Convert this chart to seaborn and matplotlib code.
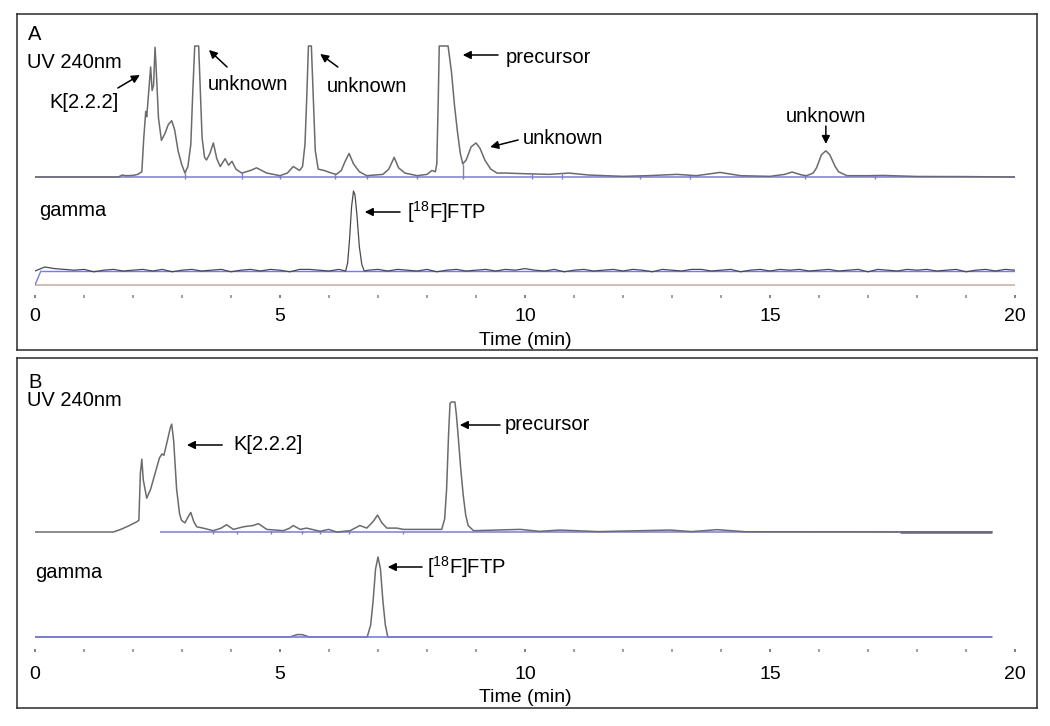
import numpy as np
import matplotlib
matplotlib.use('Agg')
import matplotlib.pyplot as plt
import seaborn as sns
from matplotlib.ticker import MultipleLocator

# ==================== data ====================
# panel A, UV 240 nm trace: time (min) / signal (1 = detector clip)
uv_a_time = [0.00, 1.70, 1.78, 1.85, 2.00, 2.10, 2.18, 2.22, 2.26, 2.28, 2.31, 2.36, 2.39, 2.42,
             2.45, 2.47, 2.52, 2.58, 2.65, 2.72, 2.79, 2.85, 2.92, 2.99, 3.06, 3.12, 3.18, 3.22,
             3.26, 3.34, 3.37, 3.41, 3.46, 3.50, 3.57, 3.64, 3.71, 3.78, 3.88, 3.95, 4.02, 4.10,
             4.22, 4.40, 4.52, 4.73, 5.00, 5.15, 5.27, 5.40, 5.46, 5.51, 5.55, 5.58, 5.64, 5.68,
             5.72, 5.78, 5.90, 6.05, 6.15, 6.25, 6.33, 6.41, 6.50, 6.62, 6.77, 7.10, 7.22, 7.33,
             7.42, 7.55, 7.80, 8.00, 8.10, 8.17, 8.20, 8.23, 8.25, 8.43, 8.50, 8.56, 8.62, 8.68,
             8.73, 8.80, 8.90, 9.00, 9.08, 9.18, 9.30, 9.43, 9.60, 10.00, 10.50, 10.90, 11.30,
             12.00, 12.50, 13.10, 13.50, 13.98, 14.40, 15.00, 15.30, 15.45, 15.65, 15.75, 15.88,
             15.95, 16.05, 16.14, 16.22, 16.33, 16.40, 16.57, 17.00, 17.30, 18.00, 19.00, 20.00]
uv_a_level = [0.000, 0.000, 0.015, 0.010, 0.012, 0.020, 0.040, 0.300, 0.500, 0.460, 0.600, 0.840,
              0.660, 0.700, 0.990, 0.850, 0.450, 0.280, 0.330, 0.400, 0.430, 0.360, 0.200, 0.100,
              0.030, 0.080, 0.250, 0.650, 1.000, 1.000, 0.700, 0.300, 0.150, 0.130, 0.180, 0.260,
              0.140, 0.080, 0.140, 0.090, 0.120, 0.060, 0.030, 0.050, 0.070, 0.030, 0.010, 0.030,
              0.080, 0.050, 0.080, 0.250, 0.650, 1.000, 1.000, 0.600, 0.200, 0.060, 0.050, 0.030,
              0.020, 0.050, 0.120, 0.180, 0.100, 0.040, 0.010, 0.020, 0.060, 0.150, 0.070, 0.030,
              0.010, 0.020, 0.050, 0.040, 0.100, 0.600, 1.000, 1.000, 0.800, 0.550, 0.350, 0.180,
              0.100, 0.130, 0.230, 0.260, 0.220, 0.130, 0.060, 0.030, 0.030, 0.025, 0.020, 0.030,
              0.015, 0.005, 0.010, 0.020, 0.010, 0.035, 0.010, 0.005, 0.020, 0.038, 0.015, 0.010,
              0.030, 0.070, 0.170, 0.200, 0.170, 0.080, 0.040, 0.010, 0.010, 0.012, 0.004, 0.003,
              0.000]
uv_a_drops = [3.06, 4.22, 5.00, 6.12, 6.77, 7.80, 8.73, 10.14, 10.76, 12.35, 13.37, 15.71, 17.14]

# panel A, gamma trace: noisy baseline every 0.2 min plus the [18F]FTP peak
gamma_a_noise = [0.00, 0.05, 0.03, 0.02, 0.01, 0.02, -0.01, 0.01, 0.02, 0.00,
                 0.01, 0.02, 0.00, 0.02, -0.01, 0.01, 0.02, 0.00, 0.01, 0.02,
                 -0.01, 0.01, 0.02, 0.00, 0.02, 0.01, -0.01, 0.02, 0.02, 0.01,
                 0.00, 0.02, 0.01, -0.01, 0.01, 0.02, 0.00, 0.02, 0.01, 0.00,
                 0.02, -0.01, 0.01, 0.02, 0.00, 0.01, 0.02, 0.00, 0.02, 0.01,
                 0.03, 0.01, 0.00, 0.02, -0.01, 0.01, 0.02, 0.00, 0.01, 0.02,
                 0.00, 0.02, 0.01, -0.01, 0.02, 0.01, 0.00, 0.02, 0.02, 0.00,
                 0.01, 0.02, -0.01, 0.01, 0.02, 0.00, 0.02, 0.01, 0.02, 0.00,
                 0.01, 0.02, 0.00, 0.01, 0.02, -0.01, 0.02, 0.01, 0.00, 0.02,
                 0.01, 0.02, 0.00, 0.01, 0.02, -0.01, 0.01, 0.02, 0.00, 0.02, 0.01]
gamma_a_peak_time = [6.34, 6.38, 6.42, 6.46, 6.50, 6.53, 6.57, 6.62, 6.67, 6.72]
gamma_a_peak_level = [0.00, 0.10, 0.40, 0.80, 1.00, 0.95, 0.70, 0.30, 0.08, 0.00]

# panel B, UV 240 nm trace
uv_b_time = [0.00, 1.60, 1.75, 1.90, 2.07, 2.12, 2.15, 2.18, 2.21, 2.28, 2.36, 2.45, 2.54, 2.59,
             2.63, 2.70, 2.76, 2.79, 2.83, 2.89, 2.95, 2.99, 3.06, 3.13, 3.18, 3.24, 3.30, 3.43,
             3.64, 3.80, 3.91, 4.05, 4.25, 4.45, 4.56, 4.73, 5.07, 5.20, 5.27, 5.41, 5.54, 5.82,
             5.99, 6.16, 6.43, 6.63, 6.77, 6.90, 6.99, 7.08, 7.18, 7.38, 7.52, 8.30, 8.36, 8.40,
             8.44, 8.47, 8.50, 8.57, 8.60, 8.64, 8.69, 8.74, 8.79, 8.84, 8.95, 9.90, 10.30, 10.71,
             11.50, 12.96, 13.40, 13.92, 14.50, 19.53]
uv_b_level = [0.000, 0.000, 0.020, 0.045, 0.077, 0.090, 0.450, 0.560, 0.400, 0.260, 0.330, 0.450,
              0.570, 0.600, 0.590, 0.700, 0.800, 0.830, 0.700, 0.330, 0.140, 0.090, 0.070, 0.120,
              0.150, 0.080, 0.040, 0.030, 0.010, 0.030, 0.056, 0.020, 0.040, 0.050, 0.064, 0.020,
              0.010, 0.030, 0.050, 0.020, 0.030, 0.005, 0.020, 0.000, 0.010, 0.050, 0.030, 0.080,
              0.130, 0.070, 0.030, 0.030, 0.020, 0.020, 0.100, 0.330, 0.750, 0.990, 1.000, 1.000,
              0.900, 0.720, 0.480, 0.280, 0.130, 0.050, 0.010, 0.020, 0.005, 0.015, 0.003, 0.015,
              0.003, 0.018, 0.002, 0.000]
uv_b_marks = [3.64, 4.13, 4.81, 5.44, 5.82, 6.40, 7.52]

# panel B, gamma trace
gamma_b_time = [0.00, 5.20, 5.35, 5.45, 5.60, 6.78, 6.85, 6.90, 6.95, 7.00, 7.05, 7.10, 7.15, 7.20, 19.53]
gamma_b_level = [0.00, 0.00, 0.03, 0.03, 0.00, 0.00, 0.15, 0.45, 0.85, 1.00, 0.85, 0.45, 0.15, 0.00, 0.00]

major_ticks = [0, 5, 10, 15, 20]

# ==================== style ====================
W, H = 1050, 726
TRACE = '#6b6b6b'
BLUE = '#7b7bdc'
DARK = '#4a4a4a'
BROWN = '#cbb3aa'
FS = 14.5

sns.set_theme(style='white')
plt.rcParams['font.family'] = ['Liberation Sans', 'DejaVu Sans']
plt.rcParams['mathtext.default'] = 'regular'
plt.rcParams['text.color'] = 'black'
plt.rcParams['axes.labelcolor'] = 'black'


def px_rect(left, top, right, bottom):
    return [left / W, 1 - bottom / H, (right - left) / W, (bottom - top) / H]


def frame(rect):
    ax = fig.add_axes(px_rect(*rect))
    ax.set_xticks([])
    ax.set_yticks([])
    for s in ax.spines.values():
        s.set_color('#2a2a2a')
        s.set_linewidth(1.1)
    return ax


def inner(rect, height, pad, labelpad):
    ax = fig.add_axes(px_rect(*rect))
    ax.set_facecolor('none')
    ax.set_xlim(0, 20)
    ax.set_ylim(0, height)
    for s in ax.spines.values():
        s.set_visible(False)
    ax.set_yticks([])
    ax.set_xticks(major_ticks)
    ax.set_xticklabels([str(v) for v in major_ticks])
    ax.xaxis.set_minor_locator(MultipleLocator(1))
    ax.tick_params(axis='x', which='both', direction='in', bottom=True, length=2.2, width=1.4,
                   colors='#a0a0a0', labelcolor='black', labelsize=14, pad=pad)
    ax.tick_params(axis='x', which='major', colors='#808080', labelcolor='black')
    ax.set_xlabel('Time (min)', fontsize=14, labelpad=labelpad, color='black')
    return ax


def arrow(ax, head, tail):
    ax.annotate('', xy=head, xytext=tail,
                arrowprops=dict(arrowstyle='-|>', color='black', lw=1.1,
                                mutation_scale=12, shrinkA=0, shrinkB=0))


fig = plt.figure(figsize=(W / 100, H / 100), dpi=100)

# ==================== panel A ====================
frame((17, 14, 1037, 350))
ax = inner((35, 14, 1015, 298), 284, pad=7, labelpad=5)
uv0, uvs = 121, 131
g0, gs = 27, 80

ax.hlines(13, 0, 20, color=BROWN, lw=1.2)
ax.plot([0, 0.12], [13, g0], color=BLUE, lw=1)
ax.hlines(g0, 0.12, 20, color=BLUE, lw=1)
ax.hlines(uv0, 0, 20, color=BLUE, lw=1.1)

uv_a = uv0 + uvs * np.array(uv_a_level)
drop_top = uv0 + uvs * np.interp(uv_a_drops, uv_a_time, uv_a_level)
ax.vlines(uv_a_drops, uv0 - 1.5, drop_top, color=BLUE, lw=1)
sns.lineplot(x=uv_a_time, y=uv_a, color=TRACE, lw=1.1, estimator=None, sort=False, ax=ax)

g_t = np.linspace(0, 20, len(gamma_a_noise))
keep = (g_t < gamma_a_peak_time[0]) | (g_t > gamma_a_peak_time[-1])
ga_t = np.concatenate([g_t[keep], gamma_a_peak_time])
ga_v = np.concatenate([np.array(gamma_a_noise)[keep], gamma_a_peak_level])
order = np.argsort(ga_t)
sns.lineplot(x=ga_t[order], y=g0 + gs * ga_v[order], color=DARK, lw=0.9,
             estimator=None, sort=False, ax=ax)

ax.text(-0.14, 264, 'A', fontsize=FS, ha='left', va='center')
ax.text(-0.16, 236, 'UV 240nm', fontsize=FS, ha='left', va='center')
ax.text(0.29, 196, 'K[2.2.2]', fontsize=FS, ha='left', va='center')
arrow(ax, (2.14, 223), (1.69, 210))
ax.text(3.53, 213, 'unknown', fontsize=FS, ha='left', va='center')
arrow(ax, (3.55, 248), (3.92, 231))
ax.text(5.96, 212, 'unknown', fontsize=FS, ha='left', va='center')
arrow(ax, (5.82, 244), (6.18, 231))
ax.text(9.61, 241, 'precursor', fontsize=FS, ha='left', va='center')
arrow(ax, (8.73, 243), (9.45, 243))
ax.text(9.96, 159, 'unknown', fontsize=FS, ha='left', va='center')
arrow(ax, (9.29, 151), (9.86, 158))
ax.text(16.14, 181, 'unknown', fontsize=FS, ha='center', va='center')
arrow(ax, (16.14, 154), (16.14, 172))
ax.text(0.08, 88, 'gamma', fontsize=FS, ha='left', va='center')
ax.text(7.59, 86, r'[$^{18}$F]FTP', fontsize=FS, ha='left', va='center')
arrow(ax, (6.73, 86), (7.45, 86))

# ==================== panel B ====================
frame((17, 358, 1037, 708))
bx = inner((35, 358, 1015, 652), 294, pad=10, labelpad=4.5)
uv0, uvs = 120, 130
g0, gs = 15, 80

sns.lineplot(x=gamma_b_time, y=g0 + gs * np.array(gamma_b_level), color=TRACE, lw=1.1,
             estimator=None, sort=False, ax=bx)
bx.hlines(g0, 0, 19.53, color=BLUE, lw=1.2)

bx.hlines(uv0, 2.55, 17.65, color=BLUE, lw=1.1)
bx.hlines(uv0, 17.65, 19.53, color='#66668e', lw=1.8)
bx.vlines(uv_b_marks, uv0 - 1.5, uv0 + 1.5, color=BLUE, lw=1)
sns.lineplot(x=uv_b_time, y=uv0 + uvs * np.array(uv_b_level), color=TRACE, lw=1.1,
             estimator=None, sort=False, ax=bx)

bx.text(-0.14, 270, 'B', fontsize=FS, ha='left', va='center')
bx.text(-0.16, 252, 'UV 240nm', fontsize=FS, ha='left', va='center')
bx.text(4.04, 207, 'K[2.2.2]', fontsize=FS, ha='left', va='center')
arrow(bx, (3.10, 207), (3.82, 207))
bx.text(9.59, 227, 'precursor', fontsize=FS, ha='left', va='center')
arrow(bx, (8.67, 227), (9.49, 227))
bx.text(0.0, 79, 'gamma', fontsize=FS, ha='left', va='center')
bx.text(8.0, 85, r'[$^{18}$F]FTP', fontsize=FS, ha='left', va='center')
arrow(bx, (7.20, 85), (7.90, 85))

fig.savefig('out.png', dpi=100)
